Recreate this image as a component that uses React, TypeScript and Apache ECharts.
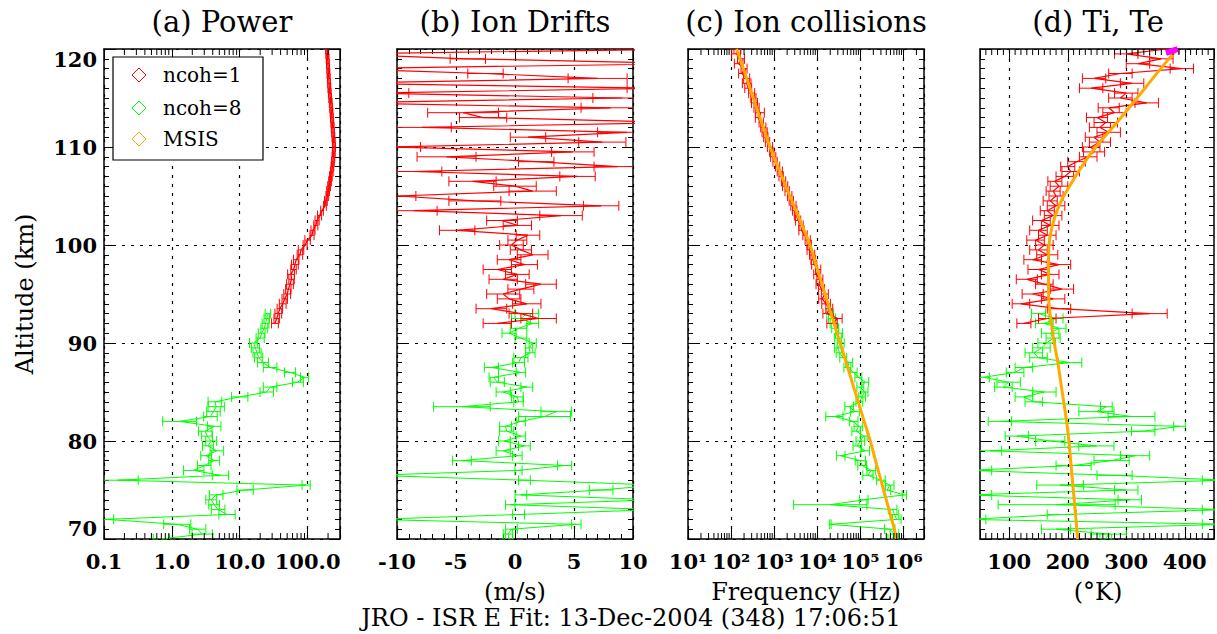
import React, { useEffect, useRef } from 'react';
import * as echarts from 'echarts';

// ---------------- data ----------------
const altR = [92, 92.5, 93, 93.5, 94, 94.5, 95, 95.5, 96, 96.5,
  97, 97.5, 98, 98.5, 99, 99.5, 100, 100.5, 101, 101.5,
  102, 102.5, 103, 103.5, 104, 104.5, 105, 105.5, 106, 106.5,
  107, 107.5, 108, 108.5, 109, 109.5, 110, 110.5, 111, 111.5,
  112, 112.5, 113, 113.5, 114, 114.5, 115, 115.5, 116, 116.5,
  117, 117.5, 118, 118.5, 119, 119.5, 120];
const altG = [70, 70.5, 71, 71.5, 72, 72.5, 73, 73.5, 74, 74.5,
  75, 75.5, 76, 76.5, 77, 77.5, 78, 78.5, 79, 79.5,
  80, 80.5, 81, 81.5, 82, 82.5, 83, 83.5, 84, 84.5,
  85, 85.5, 86, 86.5, 87, 87.5, 88, 88.5, 89, 89.5,
  90, 90.5, 91, 91.5, 92, 92.5, 93];
const altM = [70, 72, 74, 76, 78, 80, 82, 84, 86, 88,
  90, 92, 94, 96, 98, 100, 102, 104, 106, 108,
  110, 112, 114, 116, 118, 120];

// (a) power
const powR = [33, 35, 37, 39, 43, 46, 50, 52, 55, 58,
  57, 62, 65, 68, 77, 80, 92, 100, 116, 120,
  132, 138, 150, 163, 180, 186, 195, 200, 207, 214,
  220, 227, 232, 236, 240, 243, 245, 243, 240, 237,
  234, 231, 228, 225, 222, 219, 215, 212, 209, 207,
  205, 203, 201, 199, 197, 195, 193];
const powErrR = [0.05, 0.04, 0.05, 0.04, 0.05, 0.04, 0.05, 0.04, 0.05, 0.04,
  0.05, 0.04, 0.05, 0.04, 0.04, 0.04, 0.03, 0.04, 0.03, 0.03,
  0.03, 0.03, 0.03, 0.02, 0.02, 0.02, 0.02, 0.02, 0.02, 0.02,
  0.02, 0.02, 0.02, 0.02, 0.02, 0.02, 0.02, 0.02, 0.02, 0.02,
  0.02, 0.02, 0.02, 0.02, 0.02, 0.02, 0.02, 0.02, 0.02, 0.02,
  0.02, 0.02, 0.02, 0.02, 0.02, 0.02, 0.02];
const powG = [0.7, 2.8, 2.4, 1.2, 0.11, 6.5, 4.8, 4.2, 3.8, 4.5,
  12, 95, 0.16, 5.2, 2.1, 3.0, 4.2, 3.2, 4.6, 3.4,
  3.8, 3.3, 3.1, 4.2, 1.3, 3.7, 4.1, 4.5, 4.3, 10,
  25, 28, 72, 90, 55, 28, 22, 19, 18, 17,
  16, 20, 21, 23, 24, 25, 26];
const powErrG = [0.12, 0.15, 0.12, 0.2, 0.1, 0.12, 0.1, 0.08, 0.08, 0.1,
  0.12, 0.06, 0.3, 0.12, 0.15, 0.1, 0.08, 0.08, 0.1, 0.08,
  0.08, 0.08, 0.1, 0.1, 0.25, 0.1, 0.1, 0.12, 0.1, 0.12,
  0.1, 0.1, 0.08, 0.06, 0.08, 0.1, 0.08, 0.06, 0.06, 0.06,
  0.06, 0.06, 0.05, 0.05, 0.05, 0.04, 0.04];

// (b) ion drifts
const velR = [-1.5, 2.0, 0.5, -2.0, 1.0, -0.5, -1.0, 0.5, 2.2, -1.0,
  0.2, -1.5, 0.8, -0.5, 1.5, 0.5, -0.3, 0.2, 1.1, -4.9,
  0.2, -1.1, 3.9, -8.6, 7.3, -3.4, -9.9, 1.5, 0.0, -3.6,
  5.3, -8.7, 8.7, 1.8, -5.8, 4.9, -10.5, 7.4, 1.1, 9.5,
  -7.9, 14, -2.7, -4.4, 8.1, -15, 9.1, -12, 12, -15,
  7, -2.5, -15, 15, -4, -15, 15];
const velErrR = [1.2, 1.5, 1.0, 1.3, 1.2, 1.0, 1.4, 1.1, 1.3, 1.2,
  1.0, 1.2, 1.1, 1.0, 1.3, 0.9, 1.0, 0.8, 1.0, 1.5,
  1.2, 1.3, 1.8, 2.0, 1.5, 2.2, 1.5, 2.0, 1.8, 2.0,
  1.5, 2.5, 2.0, 1.5, 2.5, 1.8, 2.5, 2.0, 1.5, 2.5,
  2.5, 3.0, 2.0, 3.0, 2.5, 3.0, 2.5, 3.0, 2.5, 3.0,
  2.5, 1.5, 3.0, 3.0, 1.5, 3.0, 3.0];
const velG = [-0.5, -0.6, -0.3, 5.2, -12, 0.3, 12, -0.4, 12, 0.5,
  7.3, 12, 0.8, -12, 0.3, 4.2, -4.5, 0.2, -1.0, 0.8,
  -0.9, 0.5, -0.7, -0.8, 0.5, 2.5, 3.5, -4.5, 0.3, 0.2,
  -1.0, 1.0, -1.5, -1.8, 0.5, -2.0, 0.3, 0.5, 1.3, 1.2,
  1.5, 0.5, -0.5, 0.3, 1.5, 0.5, 1.0];
const velErrG = [0.3, 0.4, 0.5, 0.4, 1.0, 0.5, 1.0, 0.4, 1.0, 0.5,
  1.0, 1.0, 0.5, 1.0, 0.3, 0.6, 0.8, 0.4, 0.6, 0.5,
  0.5, 0.4, 0.6, 0.5, 0.4, 2.2, 1.3, 2.4, 0.4, 0.5,
  0.6, 0.5, 0.6, 0.4, 0.4, 0.6, 0.5, 0.6, 0.4, 0.3,
  0.3, 0.5, 0.6, 0.7, 0.5, 0.8, 1.0];

// (c) ion collisions
const colR = [22000, 30000, 17000, 19000, 16000, 13000, 15000, 12500, 11000, 11500,
  9500, 10500, 8500, 8000, 7600, 6500, 6500, 6000, 5200, 4300,
  4200, 3600, 3300, 3000, 2800, 2500, 2300, 2000, 1800, 1650,
  1450, 1350, 1200, 1050, 950, 880, 800, 700, 640, 600,
  560, 500, 420, 470, 390, 350, 330, 300, 250, 230,
  230, 180, 200, 150, 170, 130, 140];
const colErrR = [0.12, 0.1, 0.1, 0.08, 0.1, 0.08, 0.08, 0.07, 0.07, 0.07,
  0.06, 0.06, 0.06, 0.05, 0.06, 0.05, 0.05, 0.06, 0.05, 0.06,
  0.05, 0.06, 0.05, 0.05, 0.06, 0.05, 0.05, 0.05, 0.06, 0.05,
  0.05, 0.06, 0.05, 0.05, 0.06, 0.05, 0.06, 0.05, 0.05, 0.06,
  0.06, 0.05, 0.06, 0.1, 0.06, 0.07, 0.06, 0.07, 0.08, 0.1,
  0.07, 0.08, 0.07, 0.1, 0.08, 0.1, 0.08];
const colG = [550000, 620000, 480000, 20000, 700000, 620000, 560000, 20000, 120000, 1050000,
  420000, 480000, 300000, 150000, 180000, 110000, 100000, 35000, 130000, 85000,
  100000, 120000, 80000, 90000, 70000, 25000, 75000, 55000, 95000, 110000,
  125000, 100000, 130000, 90000, 70000, 50000, 55000, 40000, 33000, 30000,
  35000, 30000, 32000, 26000, 24000, 22000, 20000];
const colErrG = [0.1, 0.1, 0.12, 0.02, 0.1, 0.1, 0.1, 0.85, 0.1, 0.05,
  0.08, 0.1, 0.1, 0.12, 0.1, 0.1, 0.12, 0.1, 0.1, 0.1,
  0.1, 0.08, 0.1, 0.1, 0.1, 0.2, 0.1, 0.1, 0.08, 0.08,
  0.08, 0.08, 0.08, 0.08, 0.08, 0.08, 0.08, 0.08, 0.08, 0.08,
  0.08, 0.08, 0.08, 0.08, 0.08, 0.08, 0.08];
const msisCol = [700000, 535000, 400000, 300000, 225000, 170000, 123000, 89000, 64600, 46800,
  34000, 24500, 17800, 12900, 9300, 6800, 4400, 2880, 1860, 1220,
  800, 560, 390, 275, 192, 134];

// (d) Ti, Te
const tiR = [125, 165, 340, 185, 120, 175, 140, 190, 160, 130,
  170, 150, 185, 140, 165, 150, 160, 145, 165, 150,
  170, 155, 175, 165, 180, 170, 180, 175, 185, 178,
  195, 205, 200, 215, 235, 245, 240, 255, 245, 270,
  255, 265, 250, 280, 270, 335, 290, 300, 240, 310,
  245, 290, 395, 320, 360, 300, 370];
const tiErrR = [12, 15, 30, 20, 15, 20, 18, 20, 15, 18,
  15, 18, 20, 15, 18, 15, 15, 15, 15, 15,
  15, 15, 15, 12, 15, 12, 12, 12, 15, 12,
  15, 15, 12, 15, 15, 18, 15, 18, 15, 20,
  18, 20, 18, 20, 18, 20, 20, 20, 20, 20,
  20, 20, 20, 20, 20, 20, 20];
const tiG = [265, 270, 180, 470, 30, 190, 470, 181, 306, 30,
  300, 187, 470, 280, 30, 210, 275, 315, 67, 249,
  170, 113, 329, 391, 84, 309, 249, 266, 142, 125,
  160, 90, 99, 56, 110, 125, 204, 150, 142, 155,
  164, 175, 170, 185, 160, 180, 150];
const tiErrG = [10, 30, 25, 40, 30, 25, 40, 100, 20, 40,
  20, 40, 40, 30, 40, 30, 30, 25, 20, 30,
  25, 20, 20, 10, 20, 40, 30, 10, 15, 15,
  20, 15, 20, 10, 15, 15, 20, 15, 15, 15,
  15, 12, 15, 12, 15, 12, 12];
const msisTemp = [217, 214, 211, 208, 205, 202, 198, 193, 188, 183,
  177, 172, 168, 167, 167, 168, 174, 185, 203, 224,
  248, 277, 305, 332, 359, 387];
const teVal = [368, 388];
const teAlt = [119.6, 120];

// labels
const titles = ['(a) Power', '(b) Ion Drifts', '(c) Ion collisions', '(d) Ti, Te'];
const xNames = ['', '(m/s)', 'Frequency (Hz)', '(\u00B0K)'];
const powTickExp = [-1, 0, 1, 2];
const powTickLabels = ['0.1', '1.0', '10.0', '100.0'];
const colTickExp = [1, 2, 3, 4, 5, 6];
const colTickLabels = ['10\u00B9', '10\u00B2', '10\u00B3', '10\u2074', '10\u2075', '10\u2076'];
const legendNames = ['ncoh=1', 'ncoh=8', 'MSIS'];
const footer = 'JRO - ISR E Fit: 13-Dec-2004 (348) 17:06:51';

// ---------------- styling ----------------
const RED = '#ff0000';
const GREEN = '#00ff00';
const ORANGE = '#ffaa00';
const FONT = '"DejaVu Serif", serif';
const GRID_LEFTS = [104, 397, 688, 980];
const GRID_W = 236;
const GRID_TOP = 49;
const GRID_H = 490;
const DASH = { type: [3, 6] as any, color: '#000', width: 1.2 };

function logMinorTicks(lo: number, hi: number) {
  const out: number[] = [];
  for (let e = Math.floor(Math.log10(lo)); e <= Math.ceil(Math.log10(hi)); e++) {
    for (let m = 2; m <= 9; m++) {
      const v = m * Math.pow(10, e);
      if (v > lo && v < hi) out.push(v);
    }
  }
  return out;
}
function linMinorTicks(lo: number, hi: number, step: number, major: number) {
  const out: number[] = [];
  for (let v = lo + step; v < hi; v += step) {
    if (Math.abs(v % major) > 1e-6) out.push(v);
  }
  return out;
}

function errSeries(idx: number, vals: number[], errs: number[], alts: number[], color: string, log: boolean, z: number) {
  const data = vals.map((v, i) => log
    ? [v / Math.pow(10, errs[i]), v * Math.pow(10, errs[i]), alts[i]]
    : [v - errs[i], v + errs[i], alts[i]]);
  return {
    type: 'custom', xAxisIndex: idx * 2, yAxisIndex: idx * 2, data, clip: true, silent: true, z,
    encode: { x: [0, 1], y: 2 },
    renderItem: (params: any, api: any) => {
      const a = api.coord([api.value(0), api.value(2)]);
      const b = api.coord([api.value(1), api.value(2)]);
      const st = { stroke: color, lineWidth: 1 };
      return {
        type: 'group', children: [
          { type: 'line', shape: { x1: a[0], y1: a[1], x2: b[0], y2: b[1] }, style: st },
          { type: 'line', shape: { x1: a[0], y1: a[1] - 5, x2: a[0], y2: a[1] + 5 }, style: st },
          { type: 'line', shape: { x1: b[0], y1: b[1] - 5, x2: b[0], y2: b[1] + 5 }, style: st },
        ],
      };
    },
  };
}

function lineSeries(idx: number, vals: number[], alts: number[], color: string, width: number, z: number, smooth: any = false) {
  return {
    type: 'line', xAxisIndex: idx * 2, yAxisIndex: idx * 2,
    data: vals.map((v, i) => [v, alts[i]]),
    showSymbol: false, symbol: 'none', clip: true, silent: true, smooth, z,
    lineStyle: { color, width }, itemStyle: { color },
  };
}

function minorTickSeries(idx: number, vals: number[]) {
  return {
    type: 'custom', xAxisIndex: idx * 2, yAxisIndex: idx * 2, silent: true, clip: false, z: 6,
    data: vals.map((v) => [v, 95]), encode: { x: 0, y: 1 },
    renderItem: (params: any, api: any) => {
      const cs = params.coordSys;
      const p = api.coord([api.value(0), api.value(1)]);
      const st = { stroke: '#000', lineWidth: 1 };
      return {
        type: 'group', children: [
          { type: 'line', shape: { x1: p[0], y1: cs.y, x2: p[0], y2: cs.y + 6 }, style: st },
          { type: 'line', shape: { x1: p[0], y1: cs.y + cs.height, x2: p[0], y2: cs.y + cs.height - 6 }, style: st },
        ],
      };
    },
  };
}

function logFormatter(exps: number[], labels: string[]) {
  return (v: number) => {
    const e = Math.log10(v);
    const r = Math.round(e);
    if (Math.abs(e - r) > 1e-6) return '';
    const k = exps.indexOf(r);
    return k >= 0 ? labels[k] : '';
  };
}

function buildOption() {
  const axisLine = { show: true, onZero: false, lineStyle: { color: '#000', width: 1.5 } };
  const labelBase = { color: '#000', fontSize: 21, fontFamily: FONT, fontWeight: 'bold' };
  const xDefs: any[] = [
    { type: 'log', logBase: 10, min: 0.1, max: 300, formatter: logFormatter(powTickExp, powTickLabels), minorNative: false },
    { type: 'value', min: -10, max: 10, interval: 5, formatter: (v: number) => String(v), minorNative: true },
    { type: 'log', logBase: 10, min: 10, max: 3000000, formatter: logFormatter(colTickExp, colTickLabels), minorNative: false },
    { type: 'value', min: 50, max: 450, formatter: (v: number) => (v % 100 === 0 ? String(v) : ''), minorNative: false, noSplit: true },
  ];
  const xAxis: any[] = [];
  const yAxis: any[] = [];
  xDefs.forEach((d, i) => {
    const common: any = { type: d.type, gridIndex: i, min: d.min, max: d.max };
    if (d.logBase) common.logBase = d.logBase;
    if (d.interval) common.interval = d.interval;
    const minor = d.minorNative
      ? { show: true, splitNumber: 5, length: 5, lineStyle: { color: '#000', width: 1 } }
      : { show: false };
    xAxis.push({
      ...common, position: 'bottom', axisLine,
      axisTick: { show: true, inside: true, length: 10, lineStyle: { color: '#000', width: 1 } },
      minorTick: minor,
      axisLabel: { ...labelBase, formatter: d.formatter, margin: 12, showMinLabel: true, showMaxLabel: true },
      splitLine: { show: !d.noSplit, lineStyle: DASH },
    });
    xAxis.push({
      ...common, position: 'top', axisLine,
      axisTick: { show: true, inside: true, length: 10, lineStyle: { color: '#000', width: 1 } },
      minorTick: minor,
      axisLabel: { show: false }, splitLine: { show: false },
    });
    const yCommon: any = { type: 'value', gridIndex: i, min: 70, max: 120, interval: 10 };
    const yMinor = { show: true, splitNumber: 10, length: 5, lineStyle: { color: '#000', width: 1 } };
    yAxis.push({
      ...yCommon, position: 'left', axisLine,
      axisTick: { show: true, inside: true, length: 10, lineStyle: { color: '#000', width: 1 } },
      minorTick: yMinor,
      axisLabel: {
        ...labelBase, show: i === 0, margin: 7, showMinLabel: true, showMaxLabel: true,
        verticalAlignMinLabel: 'bottom', verticalAlignMaxLabel: 'top',
      },
      splitLine: { show: true, lineStyle: DASH },
    });
    yAxis.push({
      ...yCommon, position: 'right', axisLine,
      axisTick: { show: true, inside: true, length: 10, lineStyle: { color: '#000', width: 1 } },
      minorTick: yMinor,
      axisLabel: { show: false }, splitLine: { show: false },
    });
  });

  const grid = GRID_LEFTS.map((l) => ({ left: l, top: GRID_TOP, width: GRID_W, height: GRID_H, containLabel: false }));

  const series: any[] = [
    // (a)
    errSeries(0, powG, powErrG, altG, GREEN, true, 3),
    lineSeries(0, powG, altG, GREEN, 1, 3),
    errSeries(0, powR, powErrR, altR, RED, true, 4),
    lineSeries(0, powR, altR, RED, 1.3, 4),
    minorTickSeries(0, logMinorTicks(0.1, 300)),
    // (b)
    errSeries(1, velG, velErrG, altG, GREEN, false, 3),
    lineSeries(1, velG, altG, GREEN, 1, 3),
    errSeries(1, velR, velErrR, altR, RED, false, 4),
    lineSeries(1, velR, altR, RED, 1.2, 4),
    // (c)
    errSeries(2, colG, colErrG, altG, GREEN, true, 3),
    lineSeries(2, colG, altG, GREEN, 1, 3),
    errSeries(2, colR, colErrR, altR, RED, true, 4),
    lineSeries(2, colR, altR, RED, 1.2, 4),
    lineSeries(2, msisCol, altM, ORANGE, 3, 5, true),
    minorTickSeries(2, logMinorTicks(10, 3000000)),
    // (d)
    errSeries(3, tiG, tiErrG, altG, GREEN, false, 3),
    lineSeries(3, tiG, altG, GREEN, 1, 3),
    errSeries(3, tiR, tiErrR, altR, RED, false, 4),
    lineSeries(3, tiR, altR, RED, 1.2, 4),
    {
      ...lineSeries(3, msisTemp, altM, ORANGE, 3, 5, 0.5),
      markLine: {
        silent: true, symbol: ['none', 'none'], label: { show: false }, lineStyle: DASH,
        data: [{ xAxis: 100 }, { xAxis: 200 }, { xAxis: 300 }, { xAxis: 400 }],
      },
    },
    lineSeries(3, teVal, teAlt, '#ff00ff', 6, 6),
    minorTickSeries(3, linMinorTicks(50, 450, 10, 100)),
  ];

  const centers = GRID_LEFTS.map((l) => l + GRID_W / 2);
  const graphic: any[] = [];
  const txt = (x: number, y: number, text: string, size: number, extra: any = {}) => ({
    type: 'text', x, y, ...extra,
    style: { text, fill: '#000', fontSize: size, fontFamily: FONT, align: 'center', verticalAlign: 'middle', ...(extra.style || {}) },
  });
  titles.forEach((t, i) => graphic.push(txt(centers[i], 22, t, 29)));
  xNames.forEach((t, i) => { if (t) graphic.push(txt(centers[i], 592, t, 24)); });
  graphic.push({ ...txt(25, 294, 'Altitude (km)', 24), rotation: Math.PI / 2 });
  graphic.push(txt(631, 618, footer, 24));
  // legend
  graphic.push({
    type: 'rect', z: 100, shape: { x: 113, y: 57, width: 150, height: 103 },
    style: { fill: '#fff', stroke: '#000', lineWidth: 1.2 },
  });
  const legColors = [RED, GREEN, ORANGE];
  const legY = [75, 108, 139];
  legendNames.forEach((n, i) => {
    const cy = legY[i];
    graphic.push({
      type: 'polygon', z: 101,
      shape: { points: [[139, cy - 7], [146, cy], [139, cy + 7], [132, cy]] },
      style: { fill: 'none', stroke: legColors[i], lineWidth: 1 },
    });
    graphic.push({
      type: 'text', z: 101, x: 163, y: cy,
      style: { text: n, fill: '#000', fontSize: 20, fontFamily: FONT, align: 'left', verticalAlign: 'middle' },
    });
  });

  return {
    animation: false,
    backgroundColor: '#fff',
    grid, xAxis, yAxis, series, graphic,
  };
}

export default function App() {
  const ref = useRef<HTMLDivElement>(null);
  useEffect(() => {
    if (!ref.current) return;
    const chart = echarts.init(ref.current, undefined, { renderer: 'svg' });
    chart.setOption(buildOption() as any);
    return () => chart.dispose();
  }, []);
  return (
    <div
      ref={ref}
      style={{ position: 'absolute', left: 0, top: 0, width: 1217, height: 634, background: '#fff' }}
    />
  );
}
